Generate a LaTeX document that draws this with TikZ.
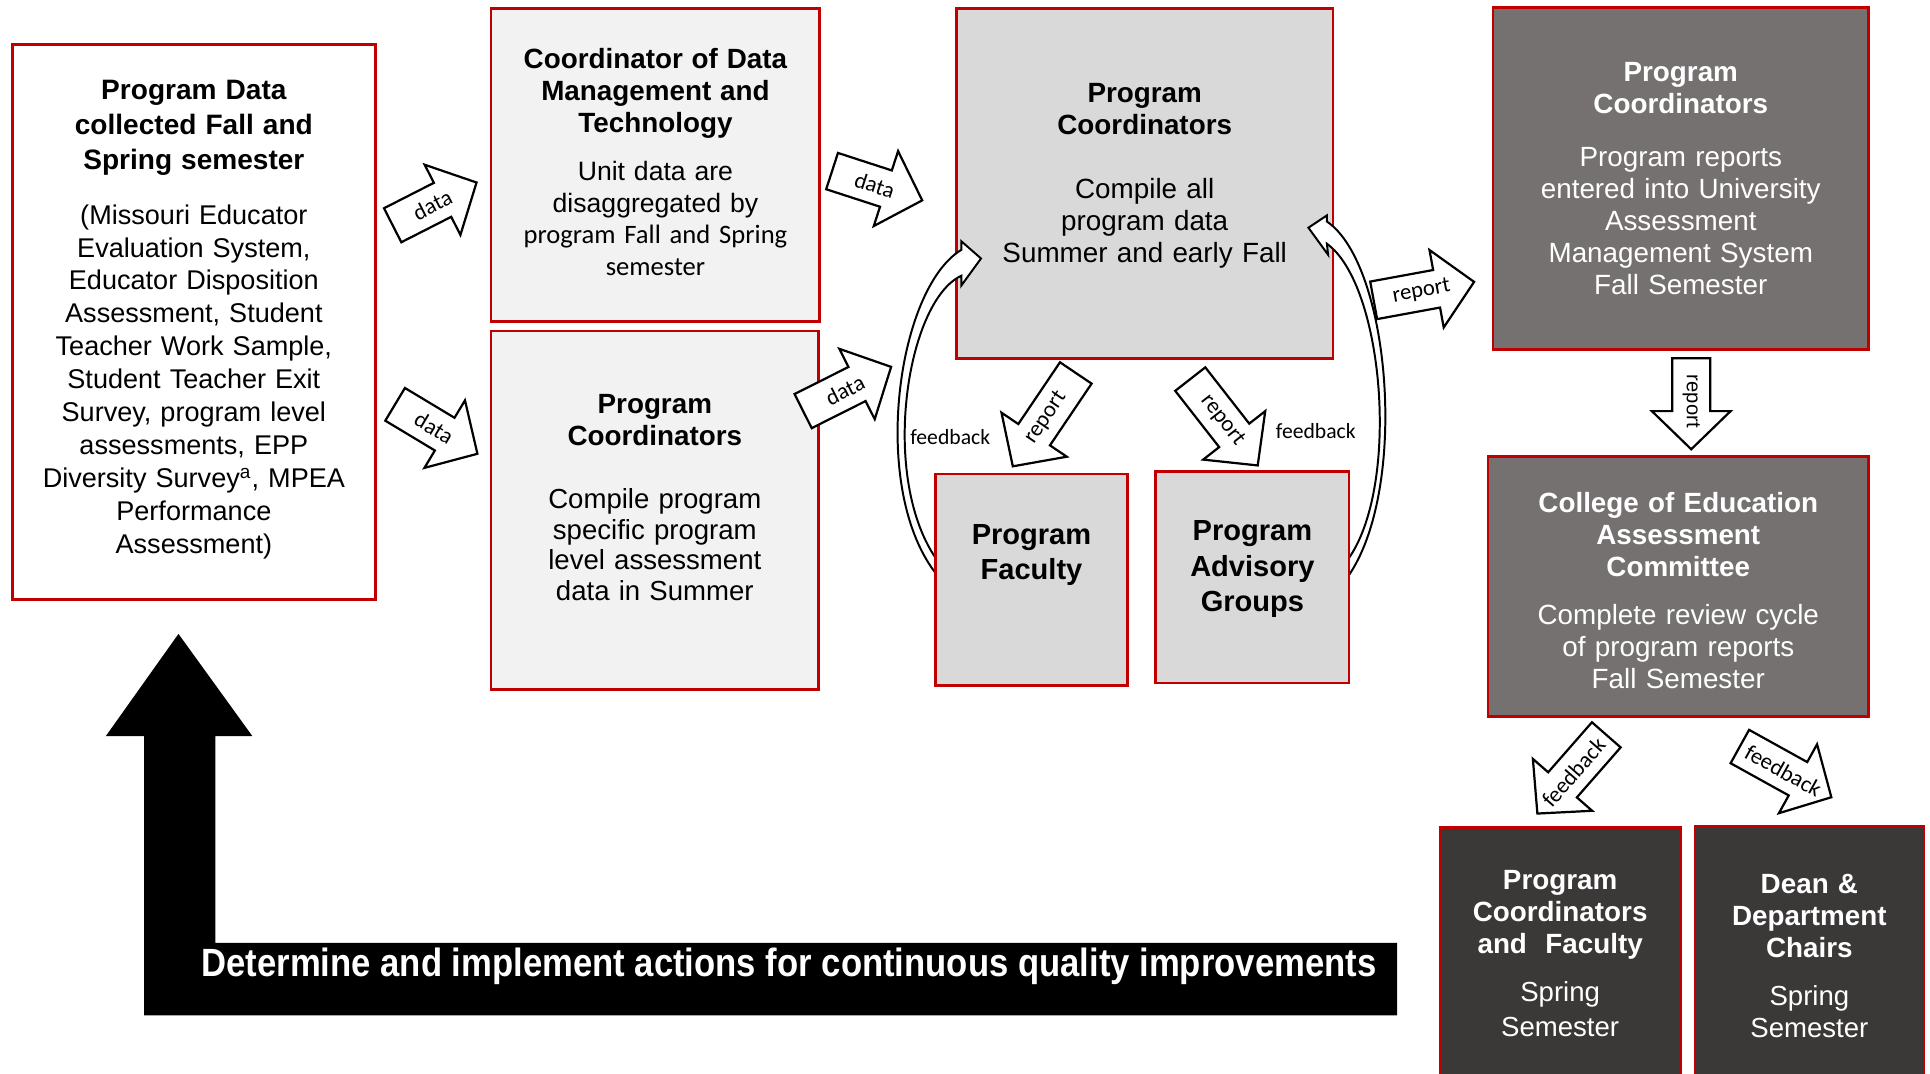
\documentclass[tikz,border=0pt]{standalone}
\usepackage{fontspec}
\setmainfont{Liberation Sans}
\newfontfamily\carlito{Carlito}
\newfontfamily\narrowfont[FakeStretch=0.88]{Liberation Sans}
\usepackage{tikz}
\definecolor{boxred}{HTML}{C00000}
\definecolor{paleg}{HTML}{F2F2F2}
\definecolor{midg}{HTML}{D9D9D9}
\definecolor{darkg}{HTML}{767171}
\definecolor{deepg}{HTML}{3B3838}
\newcommand{\hd}[2][6.5pt]{{\bfseries\fontsize{11.3}{13}\selectfont #2\par}\vspace{#1}}
\tikzset{pics/blockarrow/.style args={#1/#2/#3}{code={
			\draw[arrowline] (0,-15.5) -- ({#1-31},-15.5) -- ({#1-31},-32) -- (#1,0)
			-- ({#1-31},32) -- ({#1-31},15.5) -- (0,15.5) -- cycle;
			\node[arrowlabel, rotate=#3] (-lbl) at ({#1/2-2},0) {#2};
		}}}

\begin{document}
\begin{tikzpicture}[x=0.5pt, y=-0.5pt,
		box/.style={draw=boxred, line width=1.1pt, anchor=north west, inner xsep=4pt,
				inner ysep=0pt, outer sep=0pt, align=center},
		arrowline/.style={draw=black, fill=white, line width=0.9pt},
		arrowlabel/.style={font=\carlito\fontsize{9.2}{11}\selectfont, inner sep=0pt, transform shape},
		fblabel/.style={font=\carlito\fontsize{8.8}{10}\selectfont, inner sep=0pt},
		bandarrow/.style={draw=black, fill=white, line width=0.8pt},
		banner/.style={text=white, font=\narrowfont\bfseries\fontsize{16}{19}\selectfont, inner sep=0pt}]
	\useasboundingbox (0,0) rectangle (1568,872);
	\clip (0,0) rectangle (1568,872);

	\node[box, fill=white, minimum width=147.5pt, text width=139.5pt, text height=22.5pt,
		text depth=203pt, font=\fontsize{11}{13.4}\selectfont] (A) at (10,36)
		{{\bfseries\fontsize{11.4}{14.25}\selectfont Program Data\\collected Fall and\\Spring semester\par}\vspace{8.6pt}
		(Missouri Educator\\Evaluation System,\\Educator Disposition\\Assessment, Student\\Teacher Work Sample,\\Student Teacher Exit\\Survey, program level\\assessments, EPP\\Diversity Survey\textsuperscript{a}, MPEA\\Performance\\Assessment)};
	\node[box, fill=paleg, minimum width=133.5pt, text width=125.5pt, text height=24.5pt,
		text depth=102.5pt, font=\fontsize{10.8}{12.8}\selectfont] (B) at (399,7)
		{\hd[6.7pt]{Coordinator of Data\\Management and\\Technology}Unit data are\\disaggregated by\\{\carlito program Fall and Spring\\semester}};
	\node[box, fill=paleg, minimum width=133pt, text width=125pt, text height=33.5pt,
		text depth=112pt, font=\fontsize{11.2}{12.5}\selectfont] (C) at (399,269)
		{\hd[13pt]{Program\\Coordinators}Compile program\\specific program\\level assessment\\data in Summer};
	\node[box, fill=midg, minimum width=153pt, text width=145pt, text height=38pt,
		text depth=104pt, font=\fontsize{11.3}{13}\selectfont] (D) at (777,7)
		{\hd[13pt]{Program\\Coordinators}Compile all\\program data\\Summer and early Fall};

	% feedback loops back into D
	\draw[bandarrow] (762,468) .. controls (706,400) and (728,235) .. (781,203) -- (781,196) -- (797,210)
	-- (781,232) -- (781,224) .. controls (736,245) and (714,390) .. (762,456) -- cycle;
	\draw[bandarrow] (1094,470) .. controls (1145,400) and (1130,215) .. (1078,180) -- (1078,175) -- (1063,185)
	-- (1079,207) -- (1078,198) .. controls (1125,232) and (1138,398) .. (1094,456) -- cycle;

	\node[box, fill=midg, minimum width=78pt, text width=70pt, text height=28.5pt,
		text depth=57.5pt, font=\bfseries\fontsize{11.8}{14.5}\selectfont] (E) at (760,385) {Program\\Faculty};
	\node[box, fill=midg, minimum width=78.5pt, text width=70.5pt, text height=28pt,
		text depth=58pt, font=\bfseries\fontsize{11.8}{14.5}\selectfont] (F) at (939,383) {Program\\Advisory\\Groups};
	\node[box, fill=darkg, text=white, minimum width=152.5pt, text width=144.5pt, text height=30pt,
		text depth=109pt, font=\fontsize{11.3}{13}\selectfont] (G) at (1213,6)
		{\hd[8.5pt]{Program\\Coordinators}Program reports\\entered into University\\Assessment\\Management System\\Fall Semester};
	\node[box, fill=darkg, text=white, minimum width=154.5pt, text width=146.5pt, text height=22.5pt,
		text depth=83pt, font=\fontsize{11.3}{13}\selectfont] (H) at (1209,371)
		{\hd[6.5pt]{College of Education\\Assessment\\Committee}Complete review cycle\\of program reports\\Fall Semester};
	\node[box, fill=deepg, text=white, minimum width=97.5pt, text width=89.5pt, text height=25.5pt,
		text depth=88.5pt, font=\fontsize{11.2}{14}\selectfont] (I) at (1170,672)
		{\hd[5.5pt]{Program\\Coordinators\\and~~Faculty}Spring\\Semester};
	\node[box, fill=deepg, text=white, minimum width=93pt, text width=85pt, text height=27.5pt,
		text depth=87pt, font=\fontsize{11.2}{13}\selectfont] (J) at (1377,671)
		{\hd[6.5pt]{Dean \&\\Department\\Chairs}Spring\\Semester};

	\pic[rotate=27] (dAB) at (319,183) {blockarrow=76.5/data/0};
	\pic[rotate=-31] (dAC) at (321,328.5) {blockarrow=78/data/0};
	\pic[rotate=-18] (dBD) at (676,139) {blockarrow=77/data/0};
	\pic[rotate=26.7] (dCD) at (652.5,334) {blockarrow=80/data/0};
	\pic[rotate=10.4] (rDG) at (1116,244) {blockarrow=83/report/0};
	\pic[rotate=-90] (rGH) at (1374,291) {blockarrow=74/\normalfont\fontsize{8.2}{10}\selectfont report/0};
	\pic[rotate=236] (rDE) at (874,303) {blockarrow=91.5/report/180};
	\pic[rotate=-52] (rDF) at (967,308) {blockarrow=89/report/0};
	\pic[rotate=228.8] (fHI) at (1305,597) {blockarrow=85/feedback/180};
	\pic[rotate=-29] (fHJ) at (1413.5,606.5) {blockarrow=85/feedback/0};

	\node[fblabel] (fbE) at (772,355) {feedback};
	\node[fblabel] (fbF) at (1069,350) {feedback};

	\fill (145,515) -- (205,598) -- (175,598) -- (175,766) -- (1135,766) -- (1135,825)
	-- (117,825) -- (117,598) -- (86,598) -- cycle;
	\node[banner] (act) at (641,785) {Determine and implement actions for continuous quality improvements};
\end{tikzpicture}
\end{document}
